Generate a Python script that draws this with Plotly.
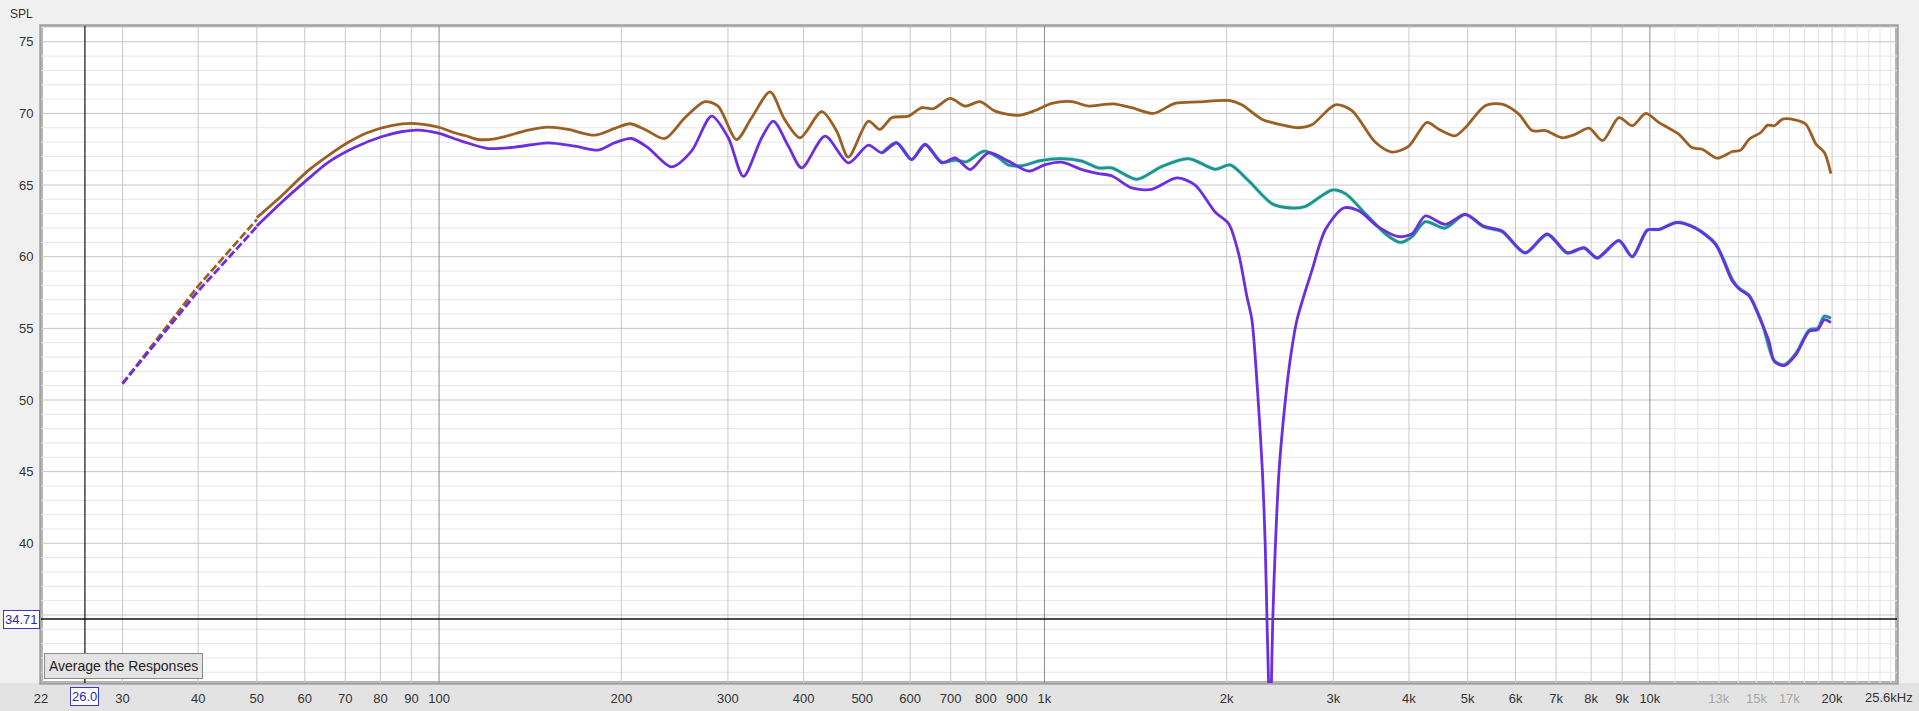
import numpy as np
import plotly.graph_objects as go

# ---------------- data ----------------
brown_dash_freq = [30, 40, 50]
brown_dash_spl = [51.14, 57.95, 62.6]
purple_dash_freq = [30, 40, 50]
purple_dash_spl = [51.14, 57.6, 62.1]

brown_freq = [50, 54.9, 60.7, 65.5, 70.7, 76.3, 83.4, 90, 96, 100.6, 106, 110.7, 116, 123.6,
              133.4, 140.4, 151.4, 163.4, 180.8, 195.1, 206.6, 218.8, 236, 254.7, 274.8, 289,
              310, 328.3, 352.2, 372, 394.6, 428.6, 453.8, 474.3, 511.9, 535.1, 559.3, 595.9,
              626.9, 655.6, 698.5, 739.6, 782.9, 828.7, 906, 965.2, 1028.5, 1110, 1182, 1240,
              1300, 1393, 1513, 1643, 1796, 2026, 2118, 2285, 2466, 2627, 2765, 3022, 3220,
              3517, 3747, 3994, 4284, 4480, 4771, 4955, 5346, 5699, 6075, 6391, 6725, 7165,
              7540, 7936, 8352, 8890, 9355, 9846, 10345, 11160, 11740, 12205, 12923, 13684,
              14125, 14590, 15250, 15650, 16050, 16570, 17430, 18100, 18810, 19420, 19910]
brown_spl = [62.73, 64.24, 65.99, 67.04, 67.97, 68.67, 69.14, 69.3, 69.18, 69.0, 68.65, 68.44,
             68.18, 68.23, 68.58, 68.83, 69.04, 68.88, 68.48, 68.95, 69.28, 68.88, 68.25, 69.7,
             70.82, 70.51, 68.18, 69.7, 71.5, 69.6, 68.3, 70.12, 68.76, 66.95, 69.46, 68.88,
             69.7, 69.81, 70.4, 70.33, 71.05, 70.51, 70.82, 70.16, 69.86, 70.2, 70.7, 70.82,
             70.51, 70.6, 70.67, 70.4, 70.0, 70.7, 70.8, 70.9, 70.6, 69.6, 69.2, 69.0, 69.2,
             70.6, 70.2, 68.0, 67.3, 67.7, 69.37, 68.9, 68.44, 69.0, 70.54, 70.65, 69.95, 68.8,
             68.8, 68.3, 68.55, 68.97, 68.1, 69.7, 69.14, 70.0, 69.37, 68.55, 67.62, 67.5,
             66.88, 67.34, 67.44, 68.2, 68.67, 69.18, 69.14, 69.6, 69.53, 69.25, 67.86, 67.27,
             65.8]

purple_freq = [50, 54.9, 60.7, 65.5, 72.5, 80.3, 86.6, 92.3, 99.6, 108.9, 120.5, 133.4, 151.4,
               167.6, 183.2, 195.1, 208, 221.5, 242, 261.2, 281.9, 300.4, 318.2, 341.1, 356.5,
               377.5, 397.1, 434.1, 474.3, 511.9, 538.4, 570, 603.5, 635, 676.6, 711.9, 753.9,
               808, 872, 941, 1003, 1068, 1153, 1227, 1291, 1393, 1504, 1654, 1774, 1915, 2015,
               2093, 2160, 2201, 2250, 2291, 2315, 2331, 2346, 2358, 2370, 2383, 2405, 2440,
               2500, 2550, 2613, 2766, 2911, 3120, 3304, 3565, 3847, 4048, 4255, 4590, 4955,
               5310, 5699, 6224, 6769, 7305, 7785, 8185, 8890, 9355, 9905, 10345, 11085, 11890,
               12840, 13684, 14045, 14590, 14950, 15340, 15730, 16050, 16670, 17430, 18340,
               18930, 19420, 19910]
purple_spl = [62.14, 63.78, 65.41, 66.57, 67.62, 68.37, 68.72, 68.83, 68.62, 68.07, 67.55, 67.65,
              67.95, 67.72, 67.44, 67.95, 68.25, 67.6, 66.27, 67.37, 69.81, 68.3, 65.6, 68.3,
              69.46, 67.72, 66.2, 68.41, 66.55, 67.79, 67.25, 67.95, 66.78, 67.83, 66.55, 66.9,
              66.08, 67.25, 66.67, 65.97, 66.43, 66.6, 66.08, 65.8, 65.65, 64.8, 64.7, 65.5,
              65.0, 63.1, 62.3, 60.2, 57.2, 55.6, 50.5, 45.0, 40.0, 34.7, 30.0, 26.0, 30.0, 34.7,
              39.5, 45.0, 50.0, 53.0, 55.6, 59.05, 61.9, 63.4, 63.2, 62.06, 61.4, 61.6, 62.84,
              62.26, 62.96, 62.14, 61.8, 60.28, 61.6, 60.28, 60.63, 59.93, 61.14, 60.0, 61.86,
              61.9, 62.38, 62.0, 60.86, 58.3, 57.75, 57.25, 56.4, 55.27, 54.1, 52.7, 52.4,
              53.17, 54.8, 54.9, 55.6, 55.4]

teal_freq = [540, 570, 603.5, 635, 676.6, 712, 742, 795, 840, 872, 920, 985, 1068, 1153, 1227,
             1291, 1421, 1563, 1730, 1915, 2026, 2174, 2376, 2563, 2697, 2985, 3141, 3389,
             3657, 3871, 4048, 4255, 4590, 4955, 5310, 5699, 6224, 6769, 7305, 7785, 8185,
             8890, 9355, 9905, 10345, 11085, 11890, 12840, 13684, 14045, 14590, 15340, 16050,
             16670, 17430, 18340, 18930, 19420, 19910]
teal_spl = [67.25, 67.95, 66.78, 67.83, 66.6, 66.75, 66.62, 67.37, 66.9, 66.4, 66.36, 66.71,
            66.85, 66.67, 66.2, 66.2, 65.4, 66.3, 66.85, 66.1, 66.4, 65.3, 63.7, 63.4, 63.5,
            64.65, 64.4, 63.0, 61.6, 61.0, 61.4, 62.45, 62.0, 62.96, 62.1, 61.75, 60.25, 61.55,
            60.25, 60.6, 59.9, 61.1, 60.0, 61.85, 61.9, 62.4, 62.0, 60.9, 58.4, 57.8, 57.3,
            55.3, 52.75, 52.45, 53.25, 54.9, 55.0, 55.85, 55.7]

cursor_freq = 26.0
cursor_spl = 34.71

x_tick_vals = [22, 30, 40, 50, 60, 70, 80, 90, 100, 200, 300, 400, 500, 600, 700, 800, 900,
               1000, 2000, 3000, 4000, 5000, 6000, 7000, 8000, 9000, 10000, 13000, 15000,
               17000, 20000]
x_tick_text = ["22", "30", "40", "50", "60", "70", "80", "90", "100", "200", "300", "400",
               "500", "600", "700", "800", "900", "1k", "2k", "3k", "4k", "5k", "6k", "7k",
               "8k", "9k", "10k", '<span style="color:#a8a8a8">13k</span>',
               '<span style="color:#a8a8a8">15k</span>', '<span style="color:#a8a8a8">17k</span>',
               "20k"]
y_tick_vals = [40, 45, 50, 55, 60, 65, 70, 75]

X_RANGE = [22, 25600]
Y_RANGE = [30.25, 76.1]

# ---------------- grid (drawn as thin line traces) ----------------
mid_v = [30, 40, 50, 60, 70, 80, 90, 200, 300, 400, 500, 600, 700, 800, 900,
         2000, 3000, 4000, 5000, 6000, 7000, 8000, 9000, 20000]
dark_v = [100, 1000, 10000]
light_v = [11000, 12000, 13000, 14000, 15000, 16000, 17000, 18000, 19000,
           21000, 22000, 23000, 24000, 25000]
major_h = list(range(35, 80, 5))
minor_h = [v for v in range(31, 77) if v % 5 != 0]


def vlines(freqs):
    xs, ys = [], []
    for f in freqs:
        xs += [f, f, None]
        ys += [Y_RANGE[0], Y_RANGE[1], None]
    return xs, ys


def hlines(levels):
    xs, ys = [], []
    for v in levels:
        xs += [X_RANGE[0], X_RANGE[1], None]
        ys += [v, v, None]
    return xs, ys


fig = go.Figure()


def add_line(xy, color, width):
    fig.add_trace(go.Scatter(x=xy[0], y=xy[1], mode="lines", hoverinfo="skip",
                             line=dict(color=color, width=width), showlegend=False))


add_line(hlines(minor_h), "#e6e6e6", 1)
add_line(vlines(light_v), "#e4e4e4", 1)
add_line(hlines(major_h), "#c6c6c6", 1)
add_line(vlines(mid_v), "#c9c9c9", 1)
add_line(vlines(dark_v), "#8e8e8e", 1)

# cursor lines
add_line(([cursor_freq, cursor_freq], Y_RANGE), "#111111", 1.2)
add_line((X_RANGE, [cursor_spl, cursor_spl]), "#111111", 1.5)

# ---------------- curves ----------------
BROWN = "#9c5f23"
PURPLE = "#6d2ee0"
TEAL = "#21918c"
LW = 2.8

fig.add_trace(go.Scatter(x=brown_dash_freq, y=brown_dash_spl, mode="lines", hoverinfo="skip",
                         line=dict(color=BROWN, width=LW, dash="8px,3px")))
fig.add_trace(go.Scatter(x=brown_freq, y=brown_spl, mode="lines", name="brown",
                         line=dict(color=BROWN, width=LW, shape="spline", smoothing=0.8)))
fig.add_trace(go.Scatter(x=teal_freq, y=teal_spl, mode="lines", name="teal",
                         line=dict(color="#c4eef0", width=4.4, shape="spline", smoothing=0.8),
                         hoverinfo="skip"))
fig.add_trace(go.Scatter(x=teal_freq, y=teal_spl, mode="lines", name="teal",
                         line=dict(color=TEAL, width=LW, shape="spline", smoothing=0.8)))
fig.add_trace(go.Scatter(x=purple_dash_freq, y=purple_dash_spl, mode="lines", hoverinfo="skip",
                         line=dict(color=PURPLE, width=LW, dash="8px,3px")))
fig.add_trace(go.Scatter(x=purple_freq, y=purple_spl, mode="lines", name="purple",
                         line=dict(color=PURPLE, width=LW, shape="spline", smoothing=0.8)))

# ---------------- layout ----------------
FONT = "Liberation Sans, Arial, sans-serif"
fig.update_layout(
    width=1919, height=711,
    margin=dict(l=41, r=22, t=26, b=28, autoexpand=False),
    paper_bgcolor="#f0f0f0", plot_bgcolor="#ffffff",
    showlegend=False,
    font=dict(family=FONT, size=13, color="#333333"),
    shapes=[
        dict(type="rect", xref="paper", yref="paper", x0=-0.03, x1=1.02, y0=-0.06, y1=0,
             fillcolor="#e3e3e3", line=dict(width=0), layer="below"),
        dict(type="rect", xref="paper", yref="paper", x0=0, x1=1, y0=0, y1=1,
             line=dict(color="#b5b5b5", width=4), fillcolor="rgba(0,0,0,0)", layer="below"),
    ],
)
fig.update_xaxes(type="log", range=[np.log10(X_RANGE[0]), np.log10(X_RANGE[1])],
                 showgrid=False, zeroline=False, tickmode="array", tickvals=x_tick_vals,
                 ticktext=x_tick_text, ticks="outside", ticklen=3, tickcolor="rgba(0,0,0,0)",
                 showline=True, mirror=True, linecolor="#a0a0a0", linewidth=1,
                 tickfont=dict(family=FONT, size=13, color="#333333"))
fig.update_yaxes(range=Y_RANGE, showgrid=False, zeroline=False, tickmode="array",
                 tickvals=y_tick_vals, ticks="outside", ticklen=4, tickcolor="rgba(0,0,0,0)",
                 showline=True, mirror=True, linecolor="#a0a0a0", linewidth=1,
                 tickfont=dict(family=FONT, size=13, color="#333333"))

fig.add_annotation(text="SPL", xref="paper", yref="paper", x=0, y=1, xanchor="right",
                   yanchor="bottom", xshift=-6, yshift=3, showarrow=False,
                   font=dict(family=FONT, size=12, color="#333333"))
fig.add_annotation(text="25.6kHz", xref="paper", yref="paper", x=1, y=0, xanchor="center",
                   yanchor="top", xshift=-8, yshift=-5, showarrow=False,
                   font=dict(family=FONT, size=13, color="#333333"))
fig.add_annotation(text="26.0", xref="x", yref="paper", x=np.log10(cursor_freq), y=0,
                   xanchor="center", yanchor="top", yshift=-4, showarrow=False,
                   bgcolor="#ffffff", bordercolor="#3a3ac8", borderwidth=1, borderpad=1,
                   font=dict(family=FONT, size=13, color="#2a2ab0"))
fig.add_annotation(text="34.71", xref="paper", yref="y", x=0, y=cursor_spl,
                   xanchor="right", yanchor="middle", xshift=-1, showarrow=False,
                   bgcolor="#ffffff", bordercolor="#3a3ac8", borderwidth=1, borderpad=1,
                   font=dict(family=FONT, size=13, color="#2a2ab0"))
fig.add_annotation(text="Average the Responses", xref="paper", yref="paper", x=0, y=0,
                   xanchor="left", yanchor="bottom", xshift=3, yshift=4, showarrow=False,
                   bgcolor="#e4e4e4", bordercolor="#8a8a8a", borderwidth=1, borderpad=4,
                   font=dict(family=FONT, size=14, color="#222222"))

fig.write_html("out.html", config={"displayModeBar": False},
               post_script="document.body.style.margin='0px';document.body.style.background='#f0f0f0';")
